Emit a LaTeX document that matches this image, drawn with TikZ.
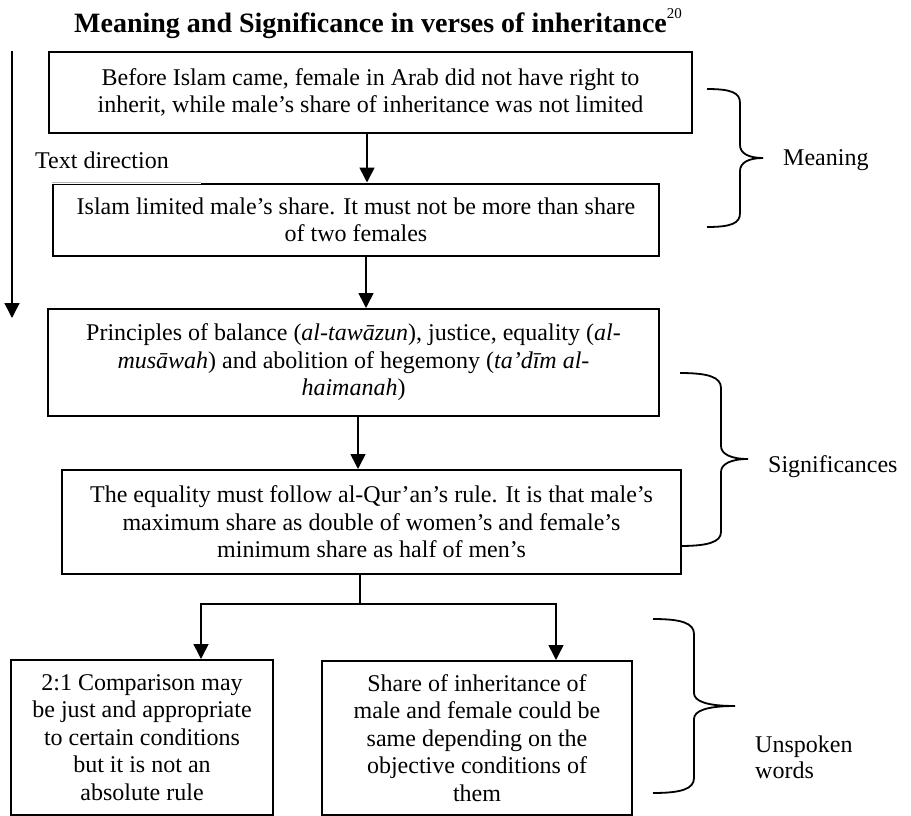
\documentclass[tikz,border=0pt]{standalone}
\usepackage{fontspec}
\setmainfont{Liberation Serif}
\usepackage{tikz}
\usetikzlibrary{arrows.meta,positioning}
\definecolor{ink}{HTML}{000000}
\definecolor{faint}{HTML}{B4B4B4}

\begin{document}
\begin{tikzpicture}[x=1pt,y=-1pt,>={Triangle[length=15pt,width=15pt]},
  font=\fontsize{24}{27.5}\selectfont,
  box/.style={draw=ink,line width=2pt,align=center,inner sep=0pt},
  flow/.style={->,draw=ink,line width=1.6pt},
  curly/.style={draw=ink,line width=1.8pt},
  lbl/.style={anchor=base west,inner sep=0pt,text=ink}]
\useasboundingbox (0,0) rectangle (911,816);
\fill[white] (0,0) rectangle (911,816);
% title
\node[lbl,font=\fontsize{28}{32}\selectfont\bfseries] (title) at (74,33) {Meaning and Significance in verses of inheritance\raisebox{14pt}{\fontsize{15}{15}\selectfont\mdseries 20}};
% reading direction
\coordinate (dirtop) at (12,51);
\coordinate (dirend) at (12,318);
\draw[flow] (dirtop) -- (dirend);
\node[lbl] (dirlabel) at (35,168) {Text direction};
% boxes
\node[box,minimum width=643pt,minimum height=81pt] (before) at (370.5,92.5) {Before Islam came, female in Arab did not have right to\\inherit, while male’s share of inheritance was not limited};
\node[box,minimum width=606pt,minimum height=72.5pt] (limited) at (356,219.75) {Islam limited male’s share. It must not be more than share\\of two females};
\draw[white,line width=2.4pt] (limited.north west) -- ++(149,0);
\draw[faint,line width=0.8pt] (limited.north west) -- ++(149,0);
\node[box,minimum width=611pt,minimum height=107pt] (principles) at (353.5,362.5) {Principles of balance (\textit{al-tawāzun}), justice, equality (\textit{al-}\\\textit{musāwah}) and abolition of hegemony (\textit{ta’dīm al-}\\\textit{haimanah})};
\node[box,minimum width=619pt,minimum height=104pt] (equality) at (371.5,522) {The equality must follow al-Qur’an’s rule. It is that male’s\\maximum share as double of women’s and female’s\\minimum share as half of men’s};
\node[box,minimum width=262pt,minimum height=155pt] (ratio) at (142,737.5) {2:1 Comparison may\\be just and appropriate\\to certain conditions\\but it is not an\\absolute rule};
\node[box,minimum width=310pt,minimum height=154pt] (same) at (477,738) {Share of inheritance of\\male and female could be\\same depending on the\\objective conditions of\\them};
% arrows
\draw[flow] ([xshift=-3.5pt]before.south) -- ([xshift=-3.5pt]before.south |- limited.north);
\draw[flow] ([xshift=10pt]limited.south) -- ([xshift=10pt]limited.south |- principles.north);
\draw[flow] ([xshift=4.5pt]principles.south) -- ([xshift=4.5pt]principles.south |- equality.north);
\coordinate (split) at ([xshift=-11.5pt,yshift=-29pt]equality.south);
\draw[line width=1.6pt] ([xshift=-11.5pt]equality.south) -- (split);
\draw[flow] (split) -| ([xshift=59pt]ratio.north);
\draw[flow] (split) -| ([xshift=79pt]same.north);
% braces
\draw[curly] (707,89) .. controls (732,89) and (740,93) .. (740,103) -- (740,145) .. controls (740,153) and (748,158) .. (763,158) .. controls (748,158) and (740,163) .. (740,171) -- (740,213) .. controls (740,223) and (732,227) .. (707,227);
\draw[curly] (680,373) .. controls (708,373) and (721,377) .. (721,388) -- (721,446) .. controls (721,454) and (731,459) .. (748,459) .. controls (731,459) and (721,464) .. (721,472) -- (721,532) .. controls (721,542) and (708,546) .. (680,546);
\draw[curly] (653,619) .. controls (681,619) and (694,623) .. (694,634) -- (694,693) .. controls (694,701) and (706,706) .. (735,706) .. controls (706,706) and (694,711) .. (694,719) -- (694,778) .. controls (694,789) and (681,793) .. (653,793);
\node[lbl] (meaning) at (783,165) {Meaning};
\node[lbl] (signif) at (768,472) {Significances};
\node[lbl] (unspoken) at (755,752) {Unspoken};
\node[lbl] (words) at (755,778) {words};
\end{tikzpicture}
\end{document}
